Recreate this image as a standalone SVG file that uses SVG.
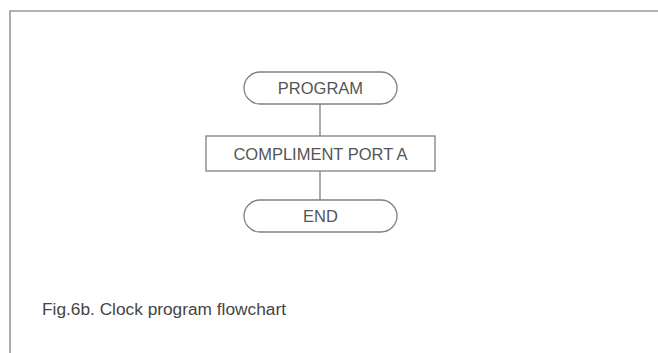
<svg xmlns="http://www.w3.org/2000/svg" width="658" height="353" viewBox="0 0 658 353">
<style>
.frame{fill:none;stroke:#9a9a9a;stroke-width:1.6}
.box{fill:#fff;stroke:#808080;stroke-width:1.3}
.wire{fill:none;stroke:#808080;stroke-width:1.3}
.lbl{font-family:"Liberation Sans",Arial,sans-serif;font-size:16.5px;fill:#555;text-anchor:middle}
.cap{font-family:"Liberation Sans",Arial,sans-serif;font-size:17.3px;fill:#444}
</style>
<rect width="658" height="353" fill="#fff"/>
<path class="frame" d="M10,353 V11 H658"/>
<g id="connectors">
<line class="wire" x1="320" y1="104" x2="320" y2="136"/>
<line class="wire" x1="320" y1="171" x2="320" y2="200"/>
</g>
<g id="program">
<rect class="box" x="244" y="72" width="153" height="32" rx="16"/>
<text class="lbl" x="320.5" y="94">PROGRAM</text>
</g>
<g id="compliment">
<rect class="box" x="206" y="136" width="229" height="35"/>
<text class="lbl" x="320.5" y="160">COMPLIMENT PORT A</text>
</g>
<g id="end">
<rect class="box" x="244" y="200" width="153" height="32" rx="16"/>
<text class="lbl" x="320.5" y="222">END</text>
</g>
<text class="cap" x="42" y="315">Fig.6b. Clock program flowchart</text>
</svg>
